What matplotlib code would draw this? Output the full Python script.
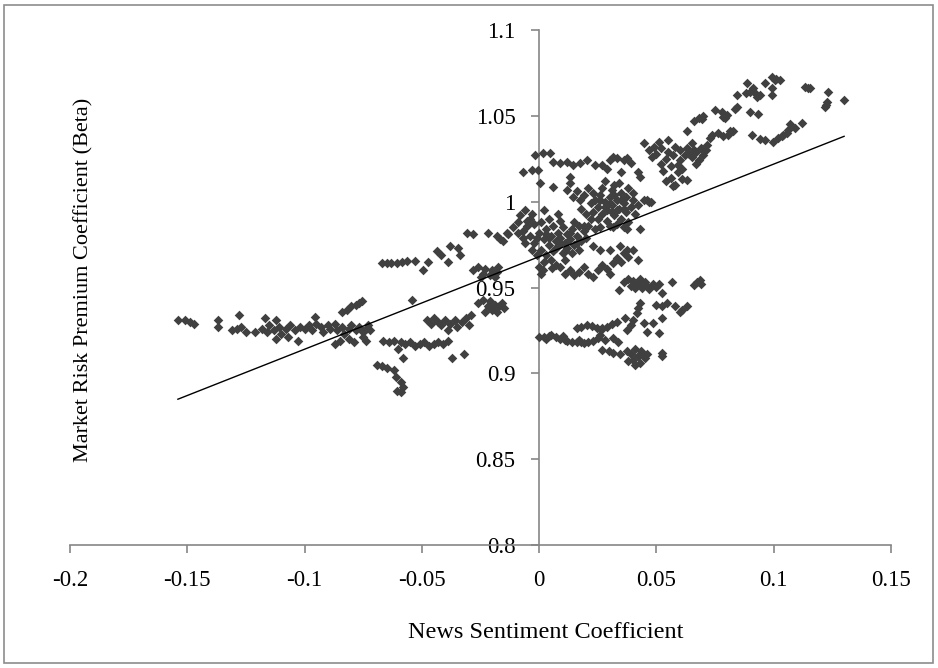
import numpy as np
import matplotlib
matplotlib.use('Agg')
import matplotlib.pyplot as plt
from matplotlib.patches import Rectangle

plt.rcParams['font.family'] = ['Liberation Serif', 'DejaVu Serif']

# Data, grouped by visible cluster
tail_x = [-0.154, -0.151, -0.149, -0.147, -0.137, -0.137, -0.128, -0.131, -0.129, -0.127,
          -0.125, -0.121, -0.117, -0.112, -0.0955, -0.112, -0.107, -0.103,
          -0.118, -0.116, -0.115, -0.113, -0.111, -0.110, -0.108, -0.106, -0.104, -0.102,
          -0.100, -0.098, -0.097, -0.095, -0.093, -0.092, -0.090, -0.089, -0.087, -0.086,
          -0.084, -0.083, -0.081, -0.080, -0.078, -0.077, -0.075, -0.074, -0.073, -0.072,
          -0.084, -0.082, -0.080, -0.078, -0.0755, -0.077,
          -0.087, -0.085, -0.081, -0.079, -0.075, -0.074]
tail_y = [0.931, 0.931, 0.930, 0.929, 0.931, 0.927, 0.934, 0.925, 0.926, 0.927,
          0.924, 0.924, 0.932, 0.931, 0.933, 0.920, 0.921, 0.919,
          0.926, 0.924, 0.928, 0.925, 0.927, 0.923, 0.926, 0.928, 0.925, 0.927,
          0.926, 0.928, 0.925, 0.929, 0.927, 0.924, 0.928, 0.926, 0.929, 0.925,
          0.927, 0.923, 0.926, 0.928, 0.925, 0.927, 0.924, 0.926, 0.928, 0.925,
          0.936, 0.937, 0.939, 0.940, 0.942, 0.941,
          0.917, 0.919, 0.920, 0.918, 0.921, 0.919]

upper_left_x = [-0.067, -0.065, -0.063, -0.0606, -0.0584, -0.0563, -0.0529, -0.0495, -0.0473,
                -0.0435, -0.042, -0.039, -0.038, -0.0345, -0.0337, -0.0307, -0.028, -0.0217,
                -0.0179, -0.0154, -0.0132, -0.009, -0.0068, -0.054]
upper_left_y = [0.9645, 0.964, 0.9645, 0.9645, 0.965, 0.9656, 0.9656, 0.960, 0.965,
                0.971, 0.969, 0.965, 0.974, 0.973, 0.969, 0.982, 0.981, 0.982,
                0.980, 0.977, 0.981, 0.982, 0.979, 0.943]

mid_left_x = [-0.028, -0.026, -0.024, -0.023, -0.021, -0.020, -0.019, -0.018, -0.0175, -0.025,
              -0.026, -0.024, -0.022, -0.021, -0.020, -0.019, -0.018, -0.017, -0.016, -0.015, -0.023,
              -0.048, -0.046, -0.045, -0.043, -0.042, -0.040, -0.039, -0.038, -0.036, -0.035,
              -0.033, -0.031, -0.029, -0.030,
              -0.0665, -0.064, -0.062, -0.059, -0.057, -0.055, -0.053, -0.051, -0.049, -0.047,
              -0.045, -0.043, -0.041, -0.039, -0.060, -0.058, -0.037, -0.032,
              -0.069, -0.067, -0.065, -0.062, -0.061, -0.059, -0.058, -0.0605, -0.059]
mid_left_y = [0.960, 0.962, 0.958, 0.961, 0.957, 0.960, 0.956, 0.959, 0.962, 0.956,
              0.941, 0.943, 0.939, 0.942, 0.937, 0.940, 0.936, 0.939, 0.941, 0.938, 0.936,
              0.931, 0.929, 0.932, 0.930, 0.928, 0.931, 0.925, 0.929, 0.931, 0.927,
              0.930, 0.932, 0.934, 0.928,
              0.919, 0.918, 0.919, 0.918, 0.917, 0.918, 0.916, 0.917, 0.918, 0.916,
              0.917, 0.918, 0.917, 0.919, 0.914, 0.909, 0.909, 0.911,
              0.905, 0.904, 0.903, 0.902, 0.898, 0.895, 0.892, 0.890, 0.889]

center_left_x = [-0.0137, -0.0166, -0.011, -0.009, -0.008, -0.006, -0.004, -0.007, -0.005, -0.003,
                 -0.002, -0.004, -0.002, 0.000, 0.001, 0.002, 0.003, 0.001, 0.003, 0.004,
                 0.005, 0.006, 0.007, 0.008, 0.006, 0.008, 0.009, 0.010, 0.011, 0.012,
                 0.010, 0.012, 0.013, 0.014, 0.015, 0.016, 0.017, 0.018, 0.019, 0.020,
                 0.014, 0.002, 0.000, 0.001, 0.005, 0.007, -0.001, -0.003, 0.004, 0.009,
                 0.015, 0.021, 0.017, 0.011, -0.006, 0.022, 0.024, 0.008, 0.002,
                 -0.001, 0.004, 0.007, 0.011, 0.013, 0.016, -0.005, 0.019, 0.003, 0.009]
center_left_y = [0.982, 0.978, 0.985, 0.988, 0.992, 0.995, 0.990, 0.983, 0.986, 0.993,
                 0.987, 0.980, 0.976, 0.982, 0.988, 0.978, 0.984, 0.972, 0.969, 0.975,
                 0.980, 0.986, 0.977, 0.982, 0.971, 0.974, 0.979, 0.985, 0.976, 0.981,
                 0.970, 0.973, 0.978, 0.984, 0.975, 0.980, 0.986, 0.977, 0.983, 0.979,
                 0.970, 0.965, 0.962, 0.958, 0.966, 0.963, 0.969, 0.972, 0.990, 0.989,
                 0.988, 0.986, 0.972, 0.966, 0.976, 0.990, 0.984, 0.993, 0.995,
                 0.979, 0.979, 0.973, 0.971, 0.982, 0.976, 0.989, 0.986, 0.981, 0.976]

center_right_x = [0.012, 0.0145, 0.0175, 0.022, 0.016, 0.019, 0.021, 0.023, 0.024, 0.025,
                  0.026, 0.027, 0.028, 0.029, 0.030, 0.031, 0.031, 0.032, 0.033, 0.034,
                  0.035, 0.035, 0.036, 0.037, 0.037, 0.038, 0.039, 0.040, 0.041, 0.042,
                  0.027, 0.029, 0.025, 0.023, 0.033, 0.036, 0.0445, 0.047, 0.026, 0.030,
                  0.020, 0.018, 0.032, 0.028, 0.034, 0.038, 0.040,
                  0.030, 0.033, 0.028, 0.035, 0.031, 0.026, 0.036, 0.032]
center_right_y = [1.007, 1.003, 1.001, 0.9995, 1.006, 1.004, 1.008, 1.005, 1.001, 0.997,
                  1.004, 1.008, 1.000, 0.995, 1.003, 0.998, 1.007, 0.992, 1.001, 0.996,
                  1.005, 0.990, 0.999, 0.994, 1.003, 0.988, 0.997, 1.001, 0.993, 0.998,
                  0.993, 0.989, 0.990, 0.994, 0.987, 0.985, 1.001, 1.000, 0.985, 0.986,
                  0.993, 0.996, 1.010, 1.012, 1.011, 1.008, 1.005,
                  0.999, 0.995, 0.997, 1.001, 0.994, 1.001, 0.996, 1.004]

top_band_x = [-0.0017, 0.0017, 0.0047, -0.0068, -0.003, -0.0004, 0.006, 0.009, 0.012, 0.0145,
              0.0175, 0.0205, 0.024, 0.027, 0.030, 0.033, 0.036, 0.039, 0.042, 0.043,
              0.0004, 0.006, 0.0132, 0.0132, 0.0375, 0.0316, 0.029, 0.035]
top_band_y = [1.027, 1.0285, 1.0285, 1.0175, 1.0186, 1.0186, 1.0233, 1.0227, 1.0233, 1.0216,
              1.0227, 1.0245, 1.0216, 1.0216, 1.0245, 1.0256, 1.0245, 1.0227, 1.0175, 1.0146,
              1.011, 1.0087, 1.0146, 1.011, 1.0256, 1.026, 1.019, 1.017]

lower_mid_x = [0.009, 0.011, 0.013, 0.015, 0.017, 0.019, 0.021, 0.023, 0.025, 0.027,
               0.029, 0.0316, 0.030, 0.033, 0.035, 0.036, 0.038, 0.040, 0.023, 0.026,
               0.030, 0.0345, 0.0375, 0.042, 0.0316, 0.0375, 0.043, 0.0017, 0.0055]
lower_mid_y = [0.962, 0.958, 0.960, 0.957, 0.959, 0.962, 0.958, 0.956, 0.960, 0.963,
               0.961, 0.964, 0.958, 0.967, 0.965, 0.970, 0.968, 0.972, 0.974, 0.972,
               0.972, 0.974, 0.972, 0.966, 0.985, 0.984, 0.984, 0.960, 0.9614]

lower_right_x = [0.000, 0.002, 0.004, 0.005, 0.007, 0.009, 0.011, 0.012, 0.014, 0.016,
                 0.018, 0.019, 0.021, 0.023, 0.025, 0.026, 0.0265, 0.003, 0.010, 0.017,
                 0.016, 0.018, 0.0205, 0.0225, 0.0247, 0.027, 0.029, 0.031, 0.0333, 0.0367,
                 0.028, 0.0316, 0.0337, 0.027, 0.0296, 0.0316, 0.0345,
                 0.0375, 0.039, 0.040, 0.041, 0.042, 0.043, 0.044, 0.045, 0.046, 0.038,
                 0.041, 0.0435, 0.0525, 0.0525,
                 0.0375, 0.039, 0.040, 0.0418, 0.043, 0.042, 0.0445, 0.046, 0.0487, 0.051, 0.0525,
                 0.050, 0.0525, 0.0546, 0.058, 0.060, 0.063, 0.061,
                 0.036, 0.038, 0.039, 0.040, 0.041, 0.042, 0.043, 0.044, 0.045, 0.046,
                 0.047, 0.0486, 0.034, 0.051, 0.0525, 0.0565, 0.050,
                 0.066, 0.0675, 0.0687, 0.069]
lower_right_y = [0.9213, 0.921, 0.9215, 0.9225, 0.921, 0.920, 0.9195, 0.919, 0.918, 0.9185,
                 0.918, 0.9175, 0.918, 0.919, 0.9205, 0.9225, 0.9255, 0.920, 0.9215, 0.9195,
                 0.9266, 0.927, 0.9283, 0.9275, 0.9266, 0.9265, 0.927, 0.929, 0.930, 0.932,
                 0.9195, 0.9207, 0.9185, 0.9138, 0.913, 0.912, 0.911,
                 0.913, 0.911, 0.908, 0.914, 0.910, 0.906, 0.912, 0.909, 0.911, 0.907,
                 0.905, 0.913, 0.912, 0.910,
                 0.925, 0.928, 0.931, 0.935, 0.941, 0.938, 0.9296, 0.924, 0.9296, 0.9237, 0.932,
                 0.940, 0.939, 0.941, 0.939, 0.936, 0.939, 0.937,
                 0.953, 0.955, 0.951, 0.954, 0.9495, 0.952, 0.955, 0.950, 0.953, 0.951,
                 0.949, 0.952, 0.9485, 0.952, 0.947, 0.953, 0.9505,
                 0.9516, 0.953, 0.9545, 0.952]

upper_right_x = [0.0445, 0.047, 0.048, 0.049, 0.050, 0.051, 0.052, 0.052, 0.053, 0.054,
                 0.055, 0.055, 0.056, 0.056, 0.057, 0.058, 0.058, 0.059, 0.060, 0.060,
                 0.061, 0.062, 0.063, 0.064, 0.065, 0.066, 0.067, 0.068, 0.069, 0.070,
                 0.071, 0.0716, 0.063, 0.057, 0.054, 0.0475, 0.046, 0.059, 0.061, 0.065, 0.067,
                 0.063, 0.066, 0.068, 0.070, 0.0695,
                 0.075, 0.078, 0.0793, 0.0785, 0.080,
                 0.0738, 0.0763, 0.0785, 0.0806, 0.0827, 0.073, 0.0815,
                 0.0845, 0.0836, 0.090, 0.0934,
                 0.0887, 0.090, 0.092, 0.094, 0.088, 0.0845, 0.091, 0.093,
                 0.0994, 0.1028, 0.0964, 0.1005, 0.101, 0.0994, 0.0994,
                 0.1134, 0.1156, 0.1145,
                 0.1232, 0.1228, 0.122, 0.130, 0.1225,
                 0.0908, 0.0942, 0.0964, 0.0998, 0.1019, 0.104, 0.1062, 0.107, 0.109, 0.112,
                 0.1055, 0.1035]
upper_right_y = [1.034, 1.030, 1.026, 1.032, 1.028, 1.035, 1.022, 1.031, 1.018, 1.025,
                 1.029, 1.036, 1.014, 1.021, 1.027, 1.032, 1.010, 1.017, 1.024, 1.030,
                 1.013, 1.027, 1.031, 1.028, 1.026, 1.030, 1.029, 1.024, 1.031, 1.027,
                 1.030, 1.033, 1.0128, 1.009, 1.012, 1.000, 1.001, 1.0215, 1.019, 1.034, 1.022,
                 1.041, 1.047, 1.049, 1.050, 1.048,
                 1.0536, 1.052, 1.049, 1.0495, 1.0507,
                 1.039, 1.040, 1.038, 1.039, 1.041, 1.037, 1.041,
                 1.055, 1.054, 1.052, 1.051,
                 1.069, 1.064, 1.0635, 1.0624, 1.0635, 1.062, 1.066, 1.061,
                 1.0728, 1.071, 1.069, 1.071, 1.0715, 1.066, 1.062,
                 1.067, 1.066, 1.0665,
                 1.064, 1.058, 1.055, 1.059, 1.0565,
                 1.039, 1.0367, 1.036, 1.035, 1.037, 1.039, 1.042, 1.045, 1.043, 1.046,
                 1.040, 1.038]

x_ticks = [-0.2, -0.15, -0.1, -0.05, 0, 0.05, 0.1, 0.15]
x_tick_labels = ['-0.2', '-0.15', '-0.1', '-0.05', '0', '0.05', '0.1', '0.15']
y_ticks = [0.8, 0.85, 0.9, 0.95, 1.0, 1.05, 1.1]
y_tick_labels = ['0.8', '0.85', '0.9', '0.95', '1', '1.05', '1.1']

x_all = np.concatenate([tail_x, upper_left_x, mid_left_x, center_left_x, center_right_x,
                        top_band_x, lower_mid_x, lower_right_x, upper_right_x])
y_all = np.concatenate([tail_y, upper_left_y, mid_left_y, center_left_y, center_right_y,
                        top_band_y, lower_mid_y, lower_right_y, upper_right_y])

W, H = 938, 668
fig = plt.figure(figsize=(W / 100, H / 100), dpi=100)
ax = fig.add_axes([70 / W, 1 - 545 / H, (891 - 70) / W, (545 - 30) / H])
ax.set_xlim(-0.2, 0.15)
ax.set_ylim(0.8, 1.1)

axis_grey = '#868686'
ax.spines['top'].set_visible(False)
ax.spines['right'].set_visible(False)
ax.spines['left'].set_position(('data', 0))
for side in ['left', 'bottom']:
    ax.spines[side].set_color(axis_grey)
    ax.spines[side].set_linewidth(1.2)

ax.set_xticks(x_ticks)
ax.set_xticklabels(x_tick_labels)
ax.set_yticks(y_ticks)
ax.set_yticklabels(y_tick_labels)
ax.tick_params(axis='both', direction='out', length=6, width=1.2, color=axis_grey,
               labelsize=16.5, labelcolor='black')
ax.tick_params(axis='x', pad=12)
ax.tick_params(axis='y', pad=11)

ax.scatter(x_all, y_all, marker='D', s=24, color='#404040', linewidths=0, zorder=3)

# linear trendline over the data range
coef = np.polyfit(x_all, y_all, 1)
x_line = np.array([x_all.min(), x_all.max()])
ax.plot(x_line, np.polyval(coef, x_line), color='black', linewidth=1.0, zorder=4)

fig.text(84 / W, 1 - 280 / H, 'Market Risk Premium Coefficient (Beta)', rotation=90,
         ha='center', va='center', fontsize=16)
fig.text(546 / W, 1 - 632 / H, 'News Sentiment Coefficient', ha='center', va='center',
         fontsize=17.5)

fig.patches.append(Rectangle((4 / W, 5 / H), 929 / W, 658 / H, transform=fig.transFigure,
                             fill=False, edgecolor='#8c8c8c', linewidth=1.2))

fig.savefig('out.png', dpi=100)
